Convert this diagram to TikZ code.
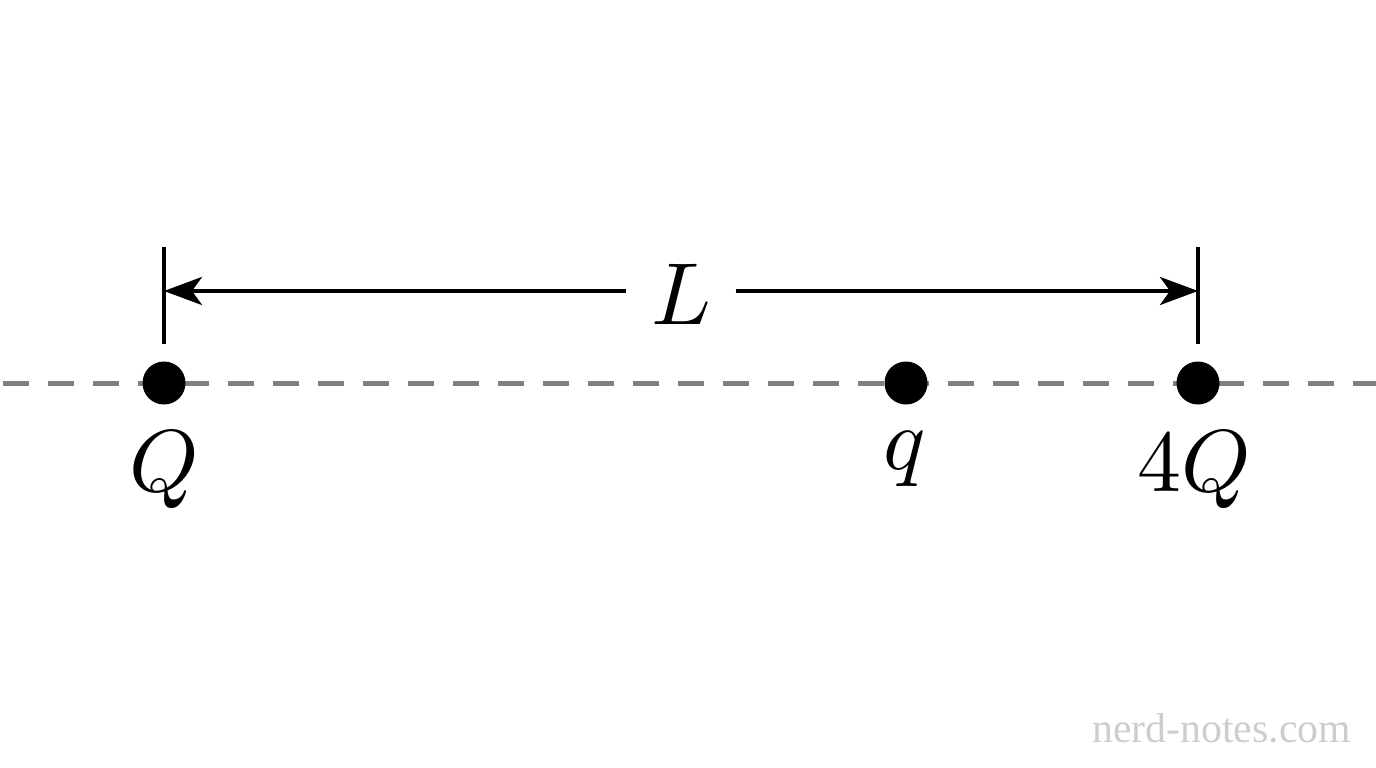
\documentclass[tikz,border=0pt]{standalone}
\usepackage{fontspec}
\newfontfamily\wmfont{Liberation Serif}
\usetikzlibrary{arrows.meta}
\definecolor{axisgray}{RGB}{128,128,128}
\definecolor{wmgray}{RGB}{205,205,205}
\tikzset{
  charge/.style={circle,fill=black,minimum size=43pt,inner sep=0pt},
  chlabel/.style={anchor=north,inner sep=0pt,scale=8.8},
  tickline/.style={line width=4pt,black},
  dimarrow/.style={line width=4pt,black,-{Stealth[length=38pt,width=28pt,inset=10pt]}},
  axis/.style={line width=5pt,axisgray,dash pattern=on 26pt off 19pt,dash phase=42.5pt}
}
\begin{document}
\begin{tikzpicture}[x=1pt,y=-1pt]
\useasboundingbox (0,0) rectangle (1376,768);
% axis
\coordinate (axL) at (0,383);
\coordinate (axR) at (1376,383);
\draw[axis] (axL) -- (axR);
% charges
\node[charge] (Q) at (164,383) {};
\node[charge] (q) at (906,383) {};
\node[charge] (Q4) at (1198,383) {};
% labels
\node[chlabel] (lQ) at (164,430) {$Q$};
\node[chlabel] (lq) at (905,430) {$q$};
\node[chlabel] (lQ4) at (1194,430) {$4Q$};
% dimension ticks
\coordinate (t1a) at (164,247);
\coordinate (t1b) at (164,344);
\coordinate (t2a) at (1198,247);
\coordinate (t2b) at (1198,344);
\draw[tickline] (t1a) -- (t1b);
\draw[tickline] (t2a) -- (t2b);
\coordinate (lt) at (164,291);
\coordinate (rt) at (1198,291);
\node[inner xsep=2.6pt,inner ysep=0pt,scale=8.8] (Lnode) at (681,294) {$L$};
\draw[dimarrow] (Lnode.west |- lt) -- (lt);
\draw[dimarrow] (Lnode.east |- rt) -- (rt);
% watermark
\node[anchor=base west,inner sep=0pt,text=wmgray,font=\wmfont\fontsize{41.8}{48}\selectfont] (wm) at (1092,742) {nerd-notes.com};
\end{tikzpicture}
\end{document}
